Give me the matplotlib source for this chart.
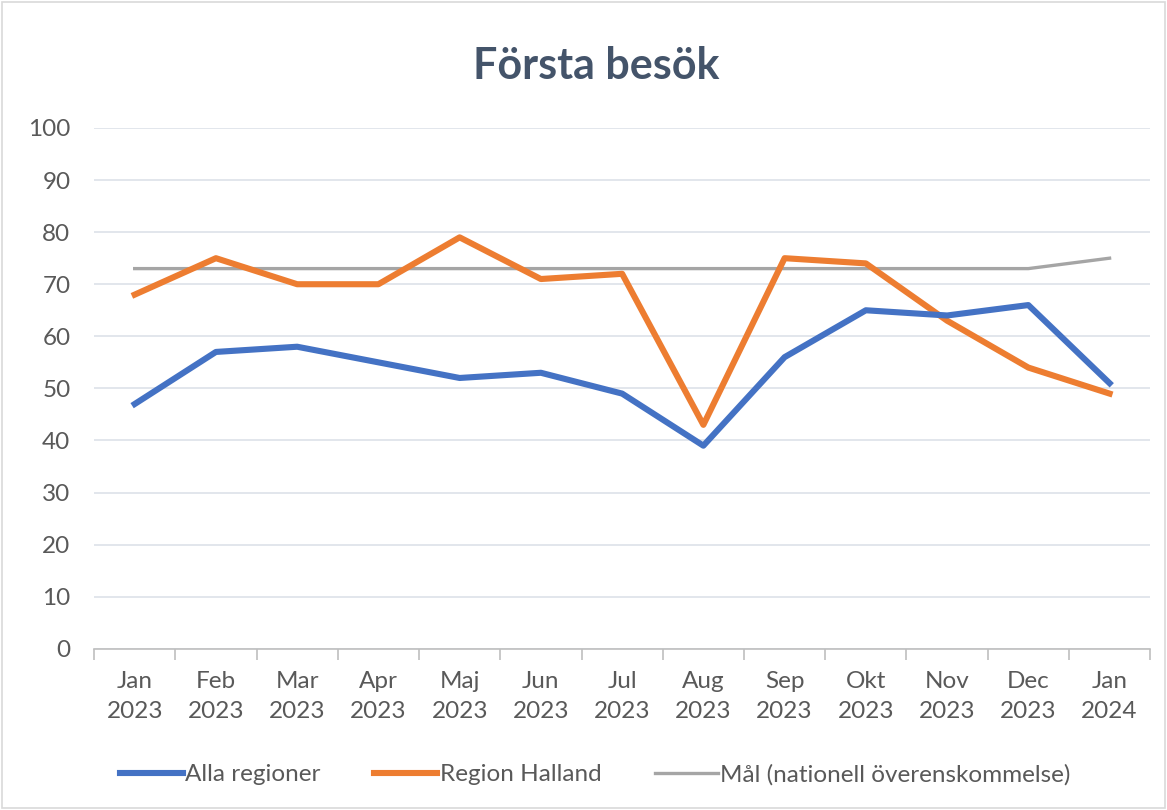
import matplotlib.pyplot as plt
from matplotlib.patches import Rectangle

months = ["Jan\n2023", "Feb\n2023", "Mar\n2023", "Apr\n2023", "Maj\n2023", "Jun\n2023",
          "Jul\n2023", "Aug\n2023", "Sep\n2023", "Okt\n2023", "Nov\n2023", "Dec\n2023",
          "Jan\n2024"]
alla = [47, 57, 58, 55, 52, 53, 49, 39, 56, 65, 64, 66, 51]
halland = [68, 75, 70, 70, 79, 71, 72, 43, 75, 74, 63, 54, 49]
mal = [73, 73, 73, 73, 73, 73, 73, 73, 73, 73, 73, 73, 75]

BLUE = "#4472C4"
ORANGE = "#ED7D31"
GRAY = "#A5A5A5"
INK = "#595959"
TITLE = "#44546A"
GRID = "#DDE1E9"

plt.rcParams["font.family"] = ["Lato", "DejaVu Sans"]

fig = plt.figure(figsize=(11.67, 8.10), dpi=100)
fig.patches.append(Rectangle((0.002, 0.002), 0.996, 0.996, transform=fig.transFigure,
                             fill=False, edgecolor="#D9D9D9", linewidth=1.2))

ax = fig.add_axes([0.0806, 0.199, 0.905, 0.643])
x = list(range(len(months)))
ax.plot(x, mal, color=GRAY, lw=2.4, label="Mål (nationell överenskommelse)", zorder=3)
ax.plot(x, halland, color=ORANGE, lw=4.4, label="Region Halland", zorder=4)
ax.plot(x, alla, color=BLUE, lw=4.4, label="Alla regioner", zorder=5)

ax.set_xlim(-0.5, len(months) - 0.5)
ax.set_ylim(0, 100)
ax.set_yticks(range(0, 101, 10))
ax.grid(axis="y", color=GRID, lw=1.2)
ax.set_axisbelow(True)
for s in ["top", "right", "left"]:
    ax.spines[s].set_visible(False)
ax.spines["bottom"].set_color("#BFBFBF")
ax.spines["bottom"].set_linewidth(1.2)

ax.set_xticks(x)
ax.set_xticklabels(months)
ax.set_xticks([i - 0.5 for i in range(len(months) + 1)], minor=True)
ax.tick_params(axis="x", which="major", length=0, pad=16, labelsize=17.5, labelcolor=INK)
ax.tick_params(axis="x", which="minor", length=8, color="#BFBFBF", width=1.2)
ax.tick_params(axis="y", length=0, pad=17, labelsize=17.5, labelcolor=INK)
for lbl in ax.get_xticklabels():
    lbl.set_linespacing(1.55)

fig.text(0.511, 0.918, "Första besök", ha="center", va="center", fontsize=31,
         fontweight="bold", color=TITLE)

h, l = ax.get_legend_handles_labels()
order = [2, 1, 0]
fig.legend([h[i] for i in order], [l[i] for i in order], loc="center",
           bbox_to_anchor=(0.51, 0.044), ncol=3, frameon=False, fontsize=17.5,
           labelcolor=INK, handlelength=2.6, handletextpad=0.1, columnspacing=2.2)

fig.savefig("out.png", dpi=100)
